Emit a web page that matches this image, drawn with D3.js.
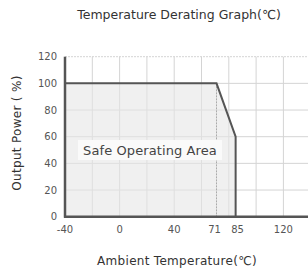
<!DOCTYPE html>
<html>
<head>
<meta charset="utf-8">
<script src="https://cdn.jsdelivr.net/npm/d3@7"></script>
<style>
  body { margin: 0; background: #fff; }
  text { font-family: "DejaVu Sans", sans-serif; }
</style>
</head>
<body>
<div class="canvas"></div>
<script>
// derating curve: temperature (C) vs output power (%)
const temps = [-40, 71, 85, 85];
const power = [100, 100, 60, 0];
const xTicks = [-40, 0, 40, 71, 85, 120];
const yTicks = [0, 20, 40, 60, 80, 100, 120];
const xGrid = [-40, -20, 0, 20, 40, 60, 80, 100, 120, 140];

const dims = {width: 308, height: 271};

const svg = d3.select('.canvas')
    .append('svg')
    .attr('width', dims.width)
    .attr('height', dims.height);

const x = d3.scaleLinear().domain([-40, 140]).range([65, 310.7]);
const y = d3.scaleLinear().domain([0, 120]).range([216.7, 56.7]);

const pts = temps.map((t, i) => [t, power[i]]);

// grid
svg.append('g').selectAll('line')
    .data(xGrid.slice(1))
    .enter().append('line')
    .attr('x1', d => x(d)).attr('x2', d => x(d))
    .attr('y1', y(120)).attr('y2', y(0))
    .attr('stroke', '#d4d4d4').attr('stroke-width', 1);

svg.append('g').selectAll('line')
    .data(yTicks.slice(1))
    .enter().append('line')
    .attr('x1', x(-40)).attr('x2', dims.width)
    .attr('y1', d => y(d)).attr('y2', d => y(d))
    .attr('stroke', '#d4d4d4').attr('stroke-width', 1)
    .attr('stroke-dasharray', d => d === 120 ? '2,1' : null);

// safe area fill
const area = d3.area().x(d => x(d[0])).y0(y(0)).y1(d => y(d[1]));
svg.append('path')
    .datum(pts)
    .attr('d', area)
    .attr('fill', '#e6e6e6')
    .attr('fill-opacity', 0.6);

// marker line at 71
svg.append('line')
    .attr('x1', x(71)).attr('x2', x(71))
    .attr('y1', y(100)).attr('y2', y(0))
    .attr('stroke', '#aaa').attr('stroke-width', 1)
    .attr('stroke-dasharray', '2,1');

// label box
svg.append('rect')
    .attr('x', 78).attr('y', 140)
    .attr('width', 144).attr('height', 20)
    .attr('fill', '#fafafa');

svg.append('text')
    .attr('x', 150).attr('y', 154.5)
    .attr('text-anchor', 'middle')
    .attr('font-size', 13)
    .attr('letter-spacing', 0.1)
    .attr('fill', '#444')
    .text('Safe Operating Area');

// curve
const line = d3.line().x(d => x(d[0])).y(d => y(d[1]));
svg.append('path')
    .datum(pts)
    .attr('d', line)
    .attr('fill', 'none')
    .attr('stroke', '#555')
    .attr('stroke-width', 2);

// axes
svg.append('line')
    .attr('x1', x(-40)).attr('x2', x(-40))
    .attr('y1', y(120)).attr('y2', y(0) + 1)
    .attr('stroke', '#555').attr('stroke-width', 2.5);
svg.append('line')
    .attr('x1', x(-40) - 1).attr('x2', dims.width)
    .attr('y1', y(0)).attr('y2', y(0))
    .attr('stroke', '#555').attr('stroke-width', 2.5);

// tick labels
svg.append('g').selectAll('text')
    .data(yTicks)
    .enter().append('text')
    .attr('x', 57).attr('y', d => y(d) + 3.5)
    .attr('text-anchor', 'end')
    .attr('font-size', 10)
    .attr('fill', '#555')
    .text(d => d);

svg.append('g').selectAll('text')
    .data(xTicks)
    .enter().append('text')
    .attr('x', d => x(d) + (d === 71 ? -2 : d === 85 ? 2 : 0))
    .attr('y', 233)
    .attr('text-anchor', 'middle')
    .attr('font-size', 10)
    .attr('fill', '#555')
    .text(d => d);

// titles
svg.append('text')
    .attr('x', 179).attr('y', 19)
    .attr('text-anchor', 'middle')
    .attr('font-size', 12.5)
    .attr('fill', '#333')
    .text('Temperature Derating Graph(\u2103)');

svg.append('text')
    .attr('x', 177).attr('y', 265)
    .attr('text-anchor', 'middle')
    .attr('font-size', 12)
    .attr('letter-spacing', 0.3)
    .attr('fill', '#333')
    .text('Ambient Temperature(\u2103)');

svg.append('text')
    .attr('transform', 'translate(21,133) rotate(-90)')
    .attr('text-anchor', 'middle')
    .attr('font-size', 12)
    .attr('letter-spacing', 0.3)
    .attr('fill', '#333')
    .text('Output Power ( %)');
</script>
</body>
</html>
